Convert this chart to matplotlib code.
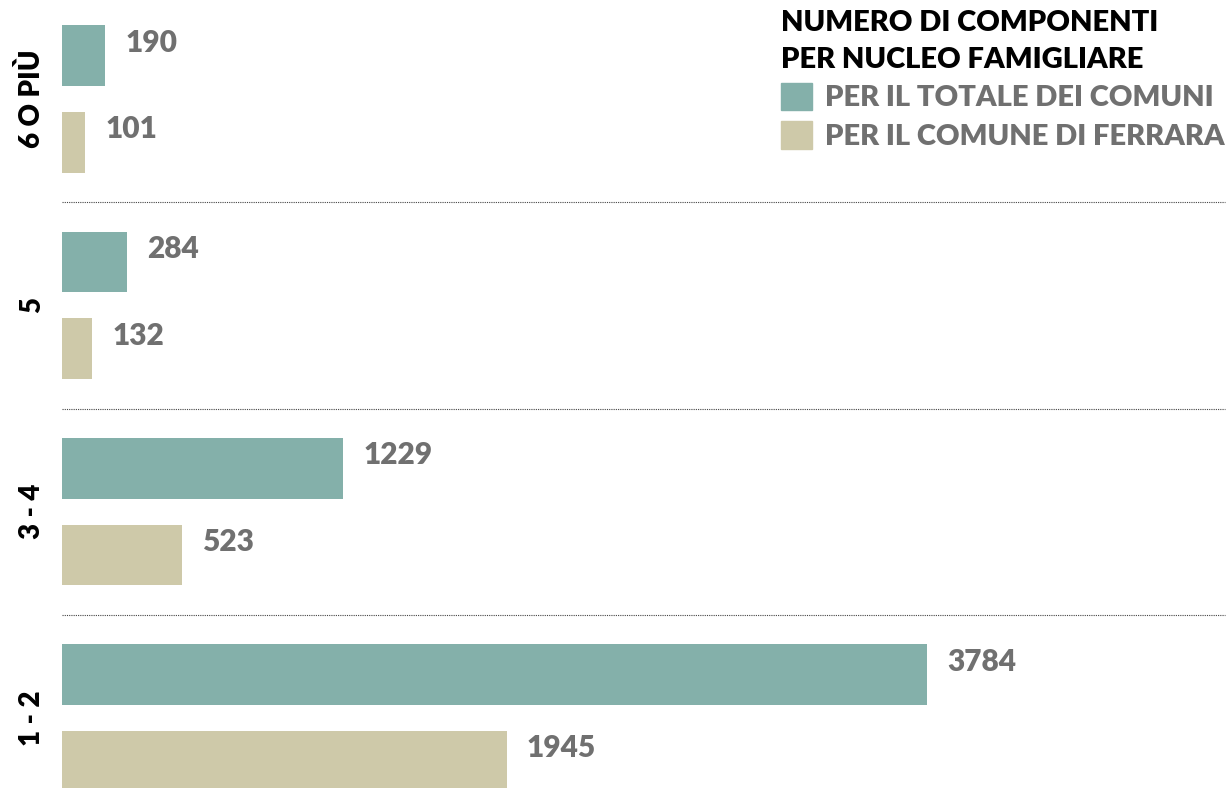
import matplotlib.pyplot as plt
from matplotlib.patches import Patch

categories = ["1 - 2", "3 - 4", "5", "6 O PIÙ"]
totale_comuni = [3784, 1229, 284, 190]
comune_ferrara = [1945, 523, 132, 101]
series_labels = ["PER IL TOTALE DEI COMUNI", "PER IL COMUNE DI FERRARA"]
legend_title = "NUMERO DI COMPONENTI\nPER NUCLEO FAMIGLIARE"

teal = "#84b0aa"
beige = "#cec9a9"
grey = "#707070"

plt.rcParams["font.family"] = ["Lato", "DejaVu Sans"]
plt.rcParams["font.weight"] = "bold"

fig = plt.figure(figsize=(12.29, 7.88), dpi=100)
ax = fig.add_axes([62 / 1229, 0, 1 - 62 / 1229, 1])

pos = list(range(len(categories)))
off = 0.21   # half distance between the two bars of a group
h = 0.295

ax.barh([p + off for p in pos], totale_comuni, height=h, color=teal)
ax.barh([p - off for p in pos], comune_ferrara, height=h, color=beige)

# value labels, a bit above the bar centre
for p, v in zip(pos, totale_comuni):
    ax.annotate(str(v), (v, p + off), xytext=(20, 13), textcoords="offset pixels",
                va="center", ha="left", fontsize=21.5, color=grey, fontweight="heavy")
for p, v in zip(pos, comune_ferrara):
    ax.annotate(str(v), (v, p - off), xytext=(20, 13), textcoords="offset pixels",
                va="center", ha="left", fontsize=21.5, color=grey, fontweight="heavy")

# dotted separators between groups
for b in [0.5, 1.5, 2.5]:
    ax.axhline(b, xmin=0, xmax=0.997, color="#444444", lw=0.8, ls=(0, (1, 1)))

ax.set_yticks(pos, categories, rotation=90, va="center", fontsize=20, fontweight="heavy")
ax.tick_params(axis="y", length=0, pad=12)
ax.set_xticks([])
for s in ax.spines.values():
    s.set_visible(False)
ax.set_xlim(0, 5103)
ax.set_ylim(-0.339, 3.48)

handles = [Patch(color=teal, label=series_labels[0]),
           Patch(color=beige, label=series_labels[1])]
leg = ax.legend(handles=handles, title=legend_title, loc="upper left",
                bbox_to_anchor=(781 / 1229, 1 - 10 / 788), bbox_transform=fig.transFigure,
                frameon=False, fontsize=21, title_fontsize=21, alignment="left",
                handlelength=1.06, handleheight=1.06, handletextpad=0.45,
                labelspacing=0.35, borderpad=0, borderaxespad=0)
leg.get_title().set_fontweight("heavy")
leg.get_title().set_linespacing(1.5)
for t in leg.get_texts():
    t.set_color(grey)
    t.set_fontweight("heavy")

fig.savefig("out.png", dpi=100)
